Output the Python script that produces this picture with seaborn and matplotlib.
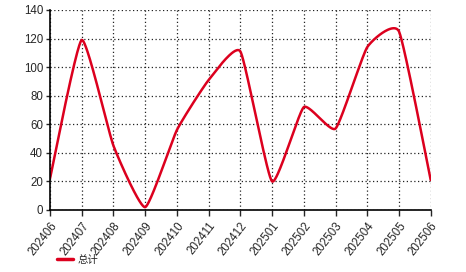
import numpy as np
import pandas as pd
import matplotlib
matplotlib.use("Agg")
import matplotlib.pyplot as plt
import seaborn as sns

months = ["202406", "202407", "202408", "202409", "202410", "202411", "202412",
          "202501", "202502", "202503", "202504", "202505", "202506"]
values = [22, 119, 45, 2, 56, 91, 111, 20, 72, 57, 114, 125, 21]
series_name = "总计"

def cardinal_2d(y, sx=31.72, sy=200 / 140, k=0.24, n=60):
    """Cardinal spline through the data points, computed in pixel space."""
    P = np.column_stack([np.arange(len(y)) * sx, np.asarray(y, float) * sy])
    m = len(P)
    T = np.zeros_like(P)
    T[1:-1] = k * (P[2:] - P[:-2])
    T[0] = k * (P[1] - P[0])
    T[-1] = k * (P[-1] - P[-2])
    out = []
    for i in range(m - 1):
        s = np.linspace(0, 1, n, endpoint=(i == m - 2))[:, None]
        c0, c3 = P[i], P[i + 1]
        c1, c2 = c0 + T[i] / 3, c3 - T[i + 1] / 3
        out.append((1 - s) ** 3 * c0 + 3 * (1 - s) ** 2 * s * c1 + 3 * (1 - s) * s ** 2 * c2 + s ** 3 * c3)
    out = np.vstack(out)
    return out[:, 0] / sx, out[:, 1] / sy

cx, cy = cardinal_2d(values)
df = pd.DataFrame({"x": cx, "y": cy, "series": series_name})

sns.set_style("white")
plt.rcParams['font.family'] = ['Liberation Sans', 'Noto Sans CJK SC', 'DejaVu Sans']

fig = plt.figure(figsize=(4.66, 2.72), dpi=100)
ax = fig.add_axes([50 / 466, 1 - 210 / 272, 380.7 / 466, 200 / 272])

sns.lineplot(data=df, x="x", y="y", hue="series", palette=["#dc001e"],
             linewidth=1.8, ax=ax, sort=False, estimator=None)

ax.set_xlim(0, len(months) - 1)
ax.set_ylim(0, 140)
ax.set_xticks(range(len(months)))
ax.set_xticklabels(months, rotation=52, ha="right", rotation_mode="anchor", fontsize=8.3)
ax.set_yticks(range(0, 141, 20))
ax.tick_params(axis="y", labelsize=8.3, length=3, width=1, direction="out", left=True, pad=2)
ax.tick_params(axis="x", length=4, width=1, direction="out", bottom=True, pad=3)
ax.grid(True, linestyle=(0, (1, 2)), color="#222222", linewidth=0.9)
ax.set_axisbelow(True)
for s in ["top", "right"]:
    ax.spines[s].set_visible(False)
for s in ["left", "bottom"]:
    ax.spines[s].set_color("black")
    ax.spines[s].set_linewidth(1.2)
ax.set_xlabel("")
ax.set_ylabel("")

leg = ax.legend(loc="center left", bbox_to_anchor=(57 / 466, 1 - 260 / 272), bbox_transform=fig.transFigure,
                frameon=False, fontsize=7.5, handlelength=1.5, handletextpad=0.5,
                borderpad=0, borderaxespad=0)
for h in leg.get_lines():
    h.set_linewidth(2.5)

fig.savefig("out.png", dpi=100)
